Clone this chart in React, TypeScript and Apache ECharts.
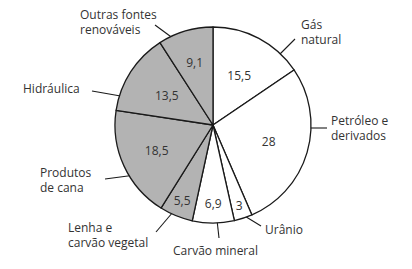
import React, { useEffect, useRef } from "react";
import * as echarts from "echarts";

const categories = [
  "Gás\nnatural",
  "Petróleo e\nderivados",
  "Urânio",
  "Carvão mineral",
  "Lenha e\ncarvão vegetal",
  "Produtos\nde cana",
  "Hidráulica",
  "Outras fontes\nrenováveis",
];
const values = [15.5, 28, 3, 6.9, 5.5, 18.5, 13.5, 9.1];
const renewable = [false, false, false, false, true, true, true, true];

// layout: chart geometry
const CX = 213;
const CY = 125;
const R = 98;
// radial distance of the value label inside each slice
const innerLabelRadius = [56, 58, 85, 79, 82, 62, 55, 65];
// outer label anchor (left, top) and leader line ends
const outerLabelPos: [number, number][] = [
  [301, 17],
  [331, 113],
  [265, 222],
  [173, 243],
  [68, 220],
  [40, 165],
  [23, 81],
  [80, 7],
];
const leaderLines: [number, number][][] = [
  [[278, 56], [295, 39]],
  [[303, 128], [327, 128]],
  [[243, 215], [261, 226]],
  [[217, 220], [219, 238]],
  [[173, 212], [156, 232]],
  [[143, 174], [105, 179]],
  [[132, 98], [92, 91]],
  [[174, 39], [155, 25]],
];

const total = values.reduce((a, b) => a + b, 0);
const midAngles = values.map((v, i) => {
  const before = values.slice(0, i).reduce((a, b) => a + b, 0);
  return ((before + v / 2) / total) * Math.PI * 2;
});

const TEXT = "#333333";
const FONT = "'Open Sans', 'Noto Sans', sans-serif";

export default function App() {
  const ref = useRef<HTMLDivElement>(null);
  useEffect(() => {
    if (!ref.current) return;
    const chart = echarts.init(ref.current, undefined, { renderer: "svg" });
    const data = values.map((v, i) => ({
      name: categories[i],
      value: v,
      itemStyle: { color: renewable[i] ? "#b3b3b3" : "#ffffff" },
    }));
    chart.setOption({
      animation: false,
      backgroundColor: "#ffffff",
      series: [
        {
          type: "pie",
          center: [CX, CY],
          radius: [0, R],
          startAngle: 90,
          clockwise: true,
          silent: true,
          itemStyle: { borderColor: "#1a1a1a", borderWidth: 1.3 },
          label: {
            show: true,
            position: "inside",
            color: TEXT,
            fontFamily: FONT,
            fontSize: 12,
            formatter: (p: any) => String(p.value).replace(".", ","),
          },
          labelLine: { show: false },
          labelLayout: (p: any) => {
            const i = p.dataIndex;
            const a = midAngles[i];
            return {
              x: CX + Math.sin(a) * innerLabelRadius[i],
              y: CY - Math.cos(a) * innerLabelRadius[i],
              align: "center",
              verticalAlign: "middle",
            };
          },
          data,
        },
        {
          type: "pie",
          center: [CX, CY],
          radius: [0, R],
          startAngle: 90,
          clockwise: true,
          silent: true,
          itemStyle: { color: "transparent", borderWidth: 0 },
          label: {
            show: true,
            position: "outside",
            color: TEXT,
            fontFamily: FONT,
            fontSize: 12,
            lineHeight: 15,
            align: "left",
            formatter: "{b}",
          },
          labelLine: {
            show: true,
            length: 10,
            length2: 10,
            lineStyle: { color: "#1a1a1a", width: 1.1 },
          },
          labelLayout: (p: any) => {
            const i = p.dataIndex;
            const pts = leaderLines[i];
            return {
              x: outerLabelPos[i][0],
              y: outerLabelPos[i][1],
              align: "left",
              verticalAlign: "top",
              labelLinePoints: [pts[0], pts[1], pts[1]],
            };
          },
          data: values.map((v, i) => ({ name: categories[i], value: v })),
        },
      ],
    });
    return () => chart.dispose();
  }, []);
  return (
    <div
      ref={ref}
      style={{ position: "fixed", left: 0, top: 0, width: 412, height: 269 }}
    />
  );
}
